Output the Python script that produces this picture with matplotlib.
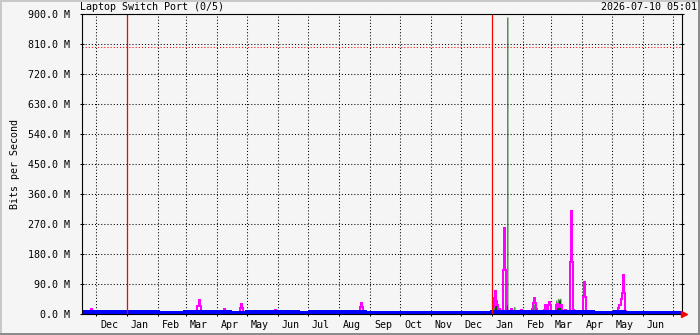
import numpy as np
import pandas as pd
import matplotlib
matplotlib.use('Agg')
import matplotlib.pyplot as plt
import matplotlib.dates as mdates
from matplotlib.patches import Rectangle
from matplotlib.ticker import FixedLocator, FuncFormatter, NullFormatter

plt.rcParams['font.family'] = 'DejaVu Sans Mono'
plt.rcParams['font.size'] = 7.2

title = 'Laptop Switch Port (0/5)'
stamp = '2026-07-10 05:01'
start = pd.Timestamp('2024-11-17')
end = pd.Timestamp('2026-07-10 05:01')

# blue traffic in Mbit/s, runs of (first day, last day, value)
blue_runs = [
    ('2024-11-17', '2024-12-19', 4), ('2024-12-20', '2024-12-23', 1),
    ('2024-12-24', '2025-01-31', 4), ('2025-02-28', '2025-04-13', 4),
    ('2025-05-01', '2025-06-20', 4), ('2025-07-03', '2025-08-12', 4),
    ('2025-08-14', '2025-08-27', 4), ('2026-01-01', '2026-04-12', 4),
    ('2026-05-04', '2026-05-13', 4),
]

# magenta line peaks (other days follow the blue level)
magenta_peaks = {
    '2024-11-20': 9, '2024-11-26': 15, '2024-11-27': 9, '2024-12-05': 9,
    '2024-12-13': 9, '2024-12-16': 9, '2025-01-01': 9, '2025-01-09': 9,
    '2025-01-10': 9, '2025-01-11': 9, '2025-01-17': 9, '2025-01-29': 9,
    '2025-03-01': 9, '2025-03-04': 9, '2025-03-12': 24, '2025-03-13': 24,
    '2025-03-14': 42, '2025-03-15': 24, '2025-03-19': 9, '2025-03-26': 9,
    '2025-03-27': 9, '2025-04-08': 15, '2025-04-24': 17, '2025-04-25': 30,
    '2025-04-26': 17, '2025-05-09': 9, '2025-05-16': 9, '2025-05-18': 9,
    '2025-05-29': 12, '2025-06-10': 9, '2025-06-13': 9, '2025-06-17': 9,
    '2025-07-19': 9, '2025-07-21': 9, '2025-07-27': 9, '2025-08-14': 9,
    '2025-08-22': 20, '2025-08-23': 34, '2025-08-24': 20,
    '2026-01-02': 20, '2026-01-03': 48, '2026-01-04': 69, '2026-01-05': 40,
    '2026-01-06': 27, '2026-01-08': 15, '2026-01-09': 10, '2026-01-12': 132,
    '2026-01-13': 258, '2026-01-14': 132, '2026-01-15': 10, '2026-01-20': 15,
    '2026-01-22': 8, '2026-01-30': 12, '2026-02-10': 15, '2026-02-11': 33,
    '2026-02-12': 47, '2026-02-13': 33, '2026-02-14': 15, '2026-02-15': 10,
    '2026-02-22': 12, '2026-02-23': 27, '2026-02-24': 20, '2026-02-26': 27,
    '2026-02-27': 37, '2026-02-28': 27, '2026-03-06': 27, '2026-03-07': 30,
    '2026-03-08': 20, '2026-03-09': 27, '2026-03-10': 20, '2026-03-11': 27,
    '2026-03-13': 10, '2026-03-15': 12, '2026-03-17': 10, '2026-03-20': 157,
    '2026-03-21': 309, '2026-03-22': 157, '2026-03-23': 12, '2026-04-02': 51,
    '2026-04-03': 96, '2026-04-04': 51, '2026-04-05': 10, '2026-04-09': 7,
    '2026-04-10': 7, '2026-04-11': 7, '2026-05-04': 10, '2026-05-05': 10,
    '2026-05-06': 10, '2026-05-07': 17, '2026-05-08': 27, '2026-05-09': 27,
    '2026-05-10': 45, '2026-05-11': 62, '2026-05-12': 117, '2026-05-13': 62,
    '2026-05-14': 10,
}

# dark green area
green_days = {
    '2026-01-03': 25, '2026-01-04': 39, '2026-01-05': 33, '2026-01-06': 12,
    '2026-01-15': 27, '2026-01-16': 891, '2026-01-23': 22, '2026-02-12': 30,
    '2026-03-06': 42, '2026-03-07': 30, '2026-03-08': 47, '2026-03-09': 42,
    '2026-03-10': 47, '2026-03-11': 30, '2026-04-03': 10,
}

threshold = 800
year_marks = ['2025-01-01', '2026-01-01']

days = pd.date_range(start, end.normalize(), freq='D')
blue = pd.Series(0.0, index=days)
for a, b, v in blue_runs:
    blue[a:b] = v
magenta = blue.copy()
for d, v in magenta_peaks.items():
    magenta[d] = v
green = pd.Series(0.0, index=days)
for d, v in green_days.items():
    green[d] = v

edges = mdates.date2num(list(days) + [end])

def stepped(s):
    return np.append(s.values, s.values[-1])

fig = plt.figure(figsize=(7, 3.35), dpi=100, facecolor='#F5F5F5')
ax = fig.add_axes([82 / 700, 21 / 335, 600 / 700, 300 / 335])
ax.set_facecolor('#F5F5F5')

ax.fill_between(edges, 0, stepped(green), step='post', color='#005A00',
                linewidth=0, antialiased=False, zorder=3)
ax.step(edges, stepped(magenta), where='post', color='#FF00FF', lw=0.8,
        antialiased=False, zorder=4)
ax.fill_between(edges, 0, stepped(blue), step='post', color='#0000FF',
                linewidth=0, antialiased=False, zorder=5)
ax.step(edges, stepped(blue), where='post', color='#0000FF', lw=2.9,
        antialiased=False, zorder=5)

dots = (0, (1, 2))
ax.axhline(threshold, color='#FF0000', lw=0.75, linestyle=dots, zorder=2)
for d in year_marks:
    ax.axvline(mdates.date2num(pd.Timestamp(d)), color='#FF0000', lw=0.9, zorder=6)

ax.set_xlim(edges[0], edges[-1])
ax.set_ylim(0, 900)

ax.yaxis.set_major_locator(FixedLocator(np.arange(0, 901, 90)))
ax.yaxis.set_major_formatter(FuncFormatter(lambda v, p: f'{v:.1f} M'))
ax.xaxis.set_major_locator(mdates.MonthLocator())
ax.xaxis.set_major_formatter(NullFormatter())
ax.xaxis.set_minor_locator(mdates.MonthLocator(bymonthday=14))
ax.xaxis.set_minor_formatter(mdates.DateFormatter('%b'))

ax.grid(True, which='major', color='black', lw=0.75, linestyle=dots, zorder=1)
ax.tick_params(axis='y', which='major', direction='inout', length=3, width=0.75,
               pad=7, right=True, colors='black')
ax.tick_params(axis='x', which='major', direction='inout', length=3, width=0.75)
ax.tick_params(axis='x', which='minor', length=0, pad=4)
for sp in ax.spines.values():
    sp.set_color('black')
    sp.set_linewidth(0.8)
    sp.set_zorder(7)

ax.plot([1.004], [0], marker='>', color='#FF0000', markersize=4.5,
        transform=ax.transAxes, clip_on=False, zorder=8)

fig.text(80 / 700, 1 - 7.5 / 335, title, ha='left', va='center')
fig.text(697 / 700, 1 - 7.5 / 335, stamp, ha='right', va='center')
fig.text(15 / 700, 1 - 164 / 335, 'Bits per Second', rotation=90,
         ha='center', va='center')

# 3d border
fig.add_artist(Rectangle((0, 1 - 2 / 335), 1, 2 / 335, transform=fig.transFigure,
                         color='#C8C8C8', lw=0))
fig.add_artist(Rectangle((0, 0), 2 / 700, 1, transform=fig.transFigure,
                         color='#C8C8C8', lw=0))
fig.add_artist(Rectangle((0, 0), 1, 2 / 335, transform=fig.transFigure,
                         color='#8C8C8C', lw=0))
fig.add_artist(Rectangle((1 - 2 / 700, 0), 2 / 700, 1, transform=fig.transFigure,
                         color='#8C8C8C', lw=0))

fig.savefig('out.png', dpi=100, facecolor=fig.get_facecolor())
